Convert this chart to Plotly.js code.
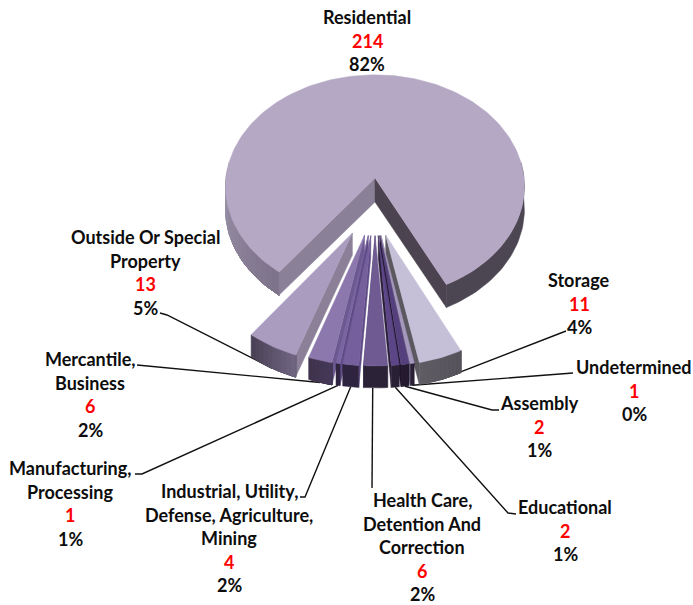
<!DOCTYPE html>
<html><head><meta charset="utf-8">
<script src="https://cdn.plot.ly/plotly-3.0.1.min.js"></script>
<style>html,body{margin:0;padding:0;background:#fff}</style></head>
<body><div id="chart" style="width:693px;height:605px"></div>
<script>
// ---- data ----
const categories = ["Residential","Storage","Undetermined","Assembly","Educational",
  "Health Care, Detention And Correction","Industrial, Utility, Defense, Agriculture, Mining",
  "Manufacturing, Processing","Mercantile, Business","Outside Or Special Property"];
const values = [214,11,1,2,2,6,4,1,6,13];
const percents = ["82%","4%","0%","1%","1%","2%","2%","1%","2%","5%"];
const labelLines = [["Residential"],["Storage"],["Undetermined"],["Assembly"],["Educational"],
  ["Health Care,","Detention And","Correction"],["Industrial, Utility,","Defense, Agriculture,","Mining"],
  ["Manufacturing,","Processing"],["Mercantile,","Business"],["Outside Or Special","Property"]];

// ---- styles ----
const topColors  = ["#b5a8c4","#c5bfd8","#a597bd","#55407d","#5c4687","#6f5a92","#755f9c","#7a64a2","#8d78ae","#a99cbe"];
const wallColors = [null,"#5b585f","#77708a","#1f1529","#2a1f38","#4a3a66","#5f4b85","#5f4b85","#6c5990","#8b8098"];
const frontA = ["#7b7189","#5f5c64","#2a2036","#241a30","#2a2036","#2c2238","#2e2440","#2e2440","#3f344d","#4a4156"];
const frontB = ["#a097ad","#55525a","#2a2036","#241a30","#2a2036","#2c2238","#2e2440","#2e2440","#45395a","#726885"];
const innerL = "#8a8097", innerR = "#4b4450", rimR = "#4c4552";

// ---- text layout: [centre x, y of first line] ----
const labelAnchor = [[367,17],[579,280],[634,367],[539,403],[565,507],[422,500],[229,491],[70,468],[90,359],[145,237]];
const lineStep = 23.6;
// leader elbows, from label outward
const leaderEnds = [null,[[566,331]],[[573,373]],[[499,410],[492,410]],[[516,514],[508,513]],[[372,488]],
  [[300,497],[305,497]],[[135,474],[142,474]],[[137,365]],[[160,313],[167,315]]];
// where along its slice each leader is attached, in degrees from the slice's middle
const leaderFoot = [0,0,0,0,0,1.0,0,0,0,0];

// ---- projection of the disc ----
const cx=375, cy=178, rX=149, rY=111, persp=0.076, depth=23, depthS=22;
const total = values.reduce((a,b)=>a+b,0);
const rad = d=>d*Math.PI/180;
function proj(X,Y,z){const s=1/(1-persp*Y);return [cx+X*rX*s, cy+Y*rY*s+z];}
function rimPt(o,phi,z){return proj(o[0]-Math.sin(rad(phi)),o[1]+Math.cos(rad(phi)),z);}

const traces=[];
function poly(pts,color){
  traces.push({type:"scatter",mode:"lines",x:pts.map(p=>p[0]).concat(pts[0][0]),y:pts.map(p=>p[1]).concat(pts[0][1]),
    fill:"toself",fillcolor:color,line:{color:color,width:0.5},hoverinfo:"skip",showlegend:false});
}
function mix(a,b,t){const h=c=>[1,3,5].map(i=>parseInt(c.substr(i,2),16));const A=h(a),B=h(b);
  return "#"+A.map((v,i)=>Math.round(v+(B[i]-v)*t).toString(16).padStart(2,"0")).join("");}
function arcPts(o,a,b,z){const n=Math.max(3,Math.ceil(Math.abs(b-a)/1.5)),r=[];
  for(let i=0;i<=n;i++)r.push(rimPt(o,a+(b-a)*i/n,z));return r;}
// wall along an arc as one band; shaded bands are laid over one another from the far end
function band(o,a,b,d,cA,cB,steps){
  for(let k=0;k<steps;k++){const t=k/steps, p0=a+(b-a)*t;
    poly(arcPts(o,p0,b,0).concat(arcPts(o,b,p0,d)),mix(cA,cB,t));}
}

// angular spans
const spans=[];let start=37.2;
values.forEach(v=>{const sw=v/total*360;spans.push([start,start+sw]);start+=sw;});
spans.forEach((s,i)=>{if(i>0){s[0]-=360;s[1]-=360;}});

// offset of each exploded slice
const offsets=spans.map((s,i)=>{ if(i===0) return [0,0];
  const m=(s[0]+s[1])/2, f=m>0?0.42+0.0065*m:0.42, a=rad(m*f); return [-0.5*Math.sin(a),0.5*Math.cos(a)];});

// leaders (underneath slices)
categories.forEach((c,i)=>{ if(i===0) return;
  const m=(spans[i][0]+spans[i][1])/2, p=rimPt(offsets[i],m+leaderFoot[i],depthS);
  const pts=leaderEnds[i].concat([p]);
  traces.push({type:"scatter",mode:"lines",x:pts.map(q=>q[0]),y:pts.map(q=>q[1]),
    line:{color:"#111111",width:1.4},hoverinfo:"skip",showlegend:false});
});

// main slice
(function(){
  const o=[0,0],a=proj(0,0,0),ab=proj(0,0,depth+1);
  const L=spans[0][0],R=spans[0][1];
  band(o,98,L,depth,frontB[0],frontA[0],20);
  poly(arcPts(o,R,262,0).concat(arcPts(o,262,R,depth)),rimR);
  poly([a,rimPt(o,L,0),rimPt(o,L,depth),ab],innerL);
  poly([a,rimPt(o,R,0),rimPt(o,R,depth),ab],innerR);
  poly([a].concat(arcPts(o,L,R,0)),topColors[0]);
})();

// exploded slices, outer ones first so the front ones overlap them
const order=categories.map((c,i)=>i).filter(i=>i>0).sort((p,q)=>
  Math.abs((spans[q][0]+spans[q][1]))-Math.abs((spans[p][0]+spans[p][1])));
order.forEach(i=>{
  const o=offsets[i],[a,b]=[Math.min(...spans[i]),Math.max(...spans[i])];
  const ap=proj(o[0],o[1],0),apb=proj(o[0],o[1],depthS);
  const mid=(a+b)/2;
  const edge = mid>0 ? a : b;
  poly([ap,rimPt(o,edge,0),rimPt(o,edge,depthS),apb],wallColors[i]);
  if(frontA[i]===frontB[i]) poly(arcPts(o,a,b,0).concat(arcPts(o,b,a,depthS)),frontA[i]);
  else band(o,b,a,depthS,frontA[i],frontB[i],10);
  poly([ap].concat(arcPts(o,a,b,0)),topColors[i]);
});

// text
const annotations=[];
function addText(x,y,t,color){annotations.push({xref:"x",yref:"y",x:x,y:y,text:"<b>"+t+"</b>",showarrow:false,
  xanchor:"center",yanchor:"middle",font:{family:"Lato, 'Open Sans', sans-serif",size:18,color:color}});}
categories.forEach((c,i)=>{
  const [x,y]=labelAnchor[i];let row=0;
  labelLines[i].forEach(t=>{addText(x,y+lineStep*row++,t,"#0d0d0d");});
  addText(x,y+lineStep*row++,String(values[i]),"#ff0000");
  addText(x,y+lineStep*row++,percents[i],"#0d0d0d");
});

Plotly.newPlot("chart",traces,{
  width:693,height:605,margin:{l:0,r:0,t:0,b:0},paper_bgcolor:"#fff",plot_bgcolor:"#fff",showlegend:false,
  xaxis:{range:[0,693],visible:false,fixedrange:true},
  yaxis:{range:[605,0],visible:false,fixedrange:true},
  annotations:annotations,hovermode:false
},{displayModeBar:false,staticPlot:true});
</script></body></html>
